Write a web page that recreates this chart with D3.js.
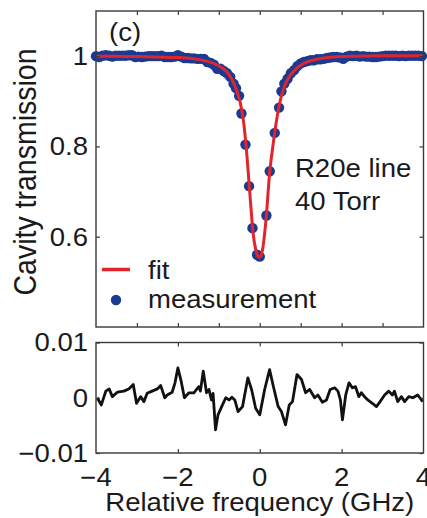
<!DOCTYPE html>
<html>
<head>
<meta charset="utf-8">
<script src="https://cdn.jsdelivr.net/npm/d3@7"></script>
<style>
  html, body { margin: 0; padding: 0; background: #fff; }
  svg { display: block; }
  text { font-family: "Liberation Sans", Arial, Helvetica, sans-serif; fill: #1a1a1a; }
</style>
</head>
<body>
<svg id="chart" width="427" height="518"></svg>
<script>
// Lineshape fit (cavity transmission vs. detuning, GHz)
const fitFreq = [-4, -3.5, -3, -2.5, -2, -1.6, -1.3, -1.1, -0.95, -0.85, -0.75, -0.65, -0.55, -0.48,
  -0.4, -0.32, -0.24, -0.16, -0.1, -0.05, -0.02, 0.02, 0.08, 0.16, 0.24, 0.32, 0.4, 0.48, 0.56,
  0.65, 0.75, 0.9, 1.1, 1.4, 1.8, 2.3, 3, 3.5, 4];
const fitValue = [1.000, 1.000, 0.999, 0.998, 0.997, 0.994, 0.989, 0.983, 0.976, 0.969, 0.959, 0.943,
  0.920, 0.898, 0.858, 0.787, 0.694, 0.606, 0.572, 0.557, 0.554, 0.556, 0.578, 0.645, 0.740, 0.800,
  0.852, 0.893, 0.922, 0.943, 0.958, 0.973, 0.985, 0.993, 0.998, 1.000, 1.001, 1.001, 1.001];

// Measured transmission
const measFreq = [-4.00, -3.92, -3.84, -3.76, -3.68, -3.60, -3.52, -3.44, -3.36, -3.28, -3.20, -3.12,
  -3.04, -2.96, -2.88, -2.80, -2.72, -2.64, -2.56, -2.48, -2.40, -2.32, -2.24, -2.16, -2.08, -2.00,
  -1.92, -1.84, -1.76, -1.68, -1.60, -1.52, -1.44, -1.36, -1.28, -1.20, -1.12, -1.04, -0.96, -0.88,
  -0.80, -0.72, -0.64, -0.58, -0.505, -0.446, -0.349, -0.261, -0.178, -0.066, 0.000, 0.163, 0.244,
  0.366, 0.471, 0.53, 0.60, 0.68, 0.76, 0.84, 0.92, 1.00, 1.08, 1.16, 1.24, 1.32, 1.40, 1.48, 1.56,
  1.64, 1.72, 1.80, 1.88, 1.96, 2.04, 2.12, 2.20, 2.28, 2.36, 2.44, 2.52, 2.60, 2.68, 2.76, 2.84,
  2.92, 3.00, 3.08, 3.16, 3.24, 3.32, 3.40, 3.48, 3.56, 3.64, 3.72, 3.80, 3.88, 3.96];
const measValue = [1.000, 0.998, 1.001, 1.002, 1.001, 0.999, 1.001, 1.001, 1.001, 1.001, 1.002, 1.002,
  0.998, 0.999, 0.998, 0.999, 1.000, 1.000, 1.000, 1.000, 1.001, 0.998, 0.998, 0.998, 0.999, 1.002,
  0.999, 0.996, 0.996, 0.995, 0.995, 0.994, 0.994, 0.994, 0.987, 0.985, 0.981, 0.972, 0.972, 0.967,
  0.962, 0.954, 0.939, 0.929, 0.912, 0.873, 0.804, 0.712, 0.619, 0.560, 0.556, 0.647, 0.745,
  0.830, 0.886, 0.922, 0.939, 0.950, 0.962, 0.969, 0.978, 0.984, 0.987, 0.989, 0.991, 0.991, 0.993,
  0.993, 0.994, 0.996, 0.997, 0.998, 0.998, 0.997, 0.994, 0.999, 1.001, 1.000, 1.001, 0.999, 1.000,
  0.999, 0.999, 0.998, 0.998, 0.999, 1.000, 1.001, 1.001, 1.001, 1.001, 1.000, 1.001, 1.000, 1.001,
  1.001, 1.001, 1.001, 1.000];

// Fit residual
const resFreq = [-3.97, -3.87, -3.76, -3.68, -3.60, -3.48, -3.32, -3.20, -3.09, -3.01, -2.91, -2.83,
  -2.75, -2.63, -2.50, -2.42, -2.32, -2.26, -2.14, -2.07, -2.00, -1.92, -1.84, -1.73, -1.61, -1.49,
  -1.45, -1.38, -1.30, -1.24, -1.18, -1.14, -1.08, -1.02, -0.93, -0.83, -0.75, -0.68, -0.61, -0.53,
  -0.42, -0.29, -0.20, -0.10, 0.00, 0.12, 0.24, 0.34, 0.45, 0.53, 0.63, 0.72, 0.80, 0.91, 1.02,
  1.12, 1.22, 1.34, 1.42, 1.53, 1.63, 1.72, 1.83, 1.91, 1.97, 2.02, 2.10, 2.18, 2.26, 2.34, 2.42,
  2.48, 2.56, 2.64, 2.75, 2.85, 2.94, 3.05, 3.15, 3.24, 3.29, 3.37, 3.46, 3.54, 3.64, 3.74, 3.86, 3.98];
const resValue = [0.0000, -0.0013, 0.0012, 0.0016, 0.0002, 0.0010, 0.0012, 0.0016, 0.0024, -0.0010,
  0.0002, -0.0007, 0.0008, 0.0012, 0.0016, 0.0022, 0.0000, 0.0005, 0.0010, 0.0027, 0.0054, 0.0030,
  0.0000, 0.0009, 0.0009, 0.0020, 0.0012, 0.0048, 0.0009, 0.0015, -0.0004, 0.0008, -0.0058, -0.0031,
  -0.0016, 0.0000, -0.0004, 0.0001, -0.0004, -0.0025, -0.0016, 0.0036, 0.0015, -0.0019, -0.0031,
  0.0015, 0.0051, 0.0018, -0.0016, -0.0025, -0.0049, -0.0013, -0.0007, 0.0042, 0.0033, 0.0009,
  0.0015, 0.0000, 0.0005, -0.0008, -0.0004, 0.0015, 0.0018, 0.0012, -0.0004, -0.0040, 0.0005,
  0.0027, 0.0018, 0.0020, 0.0002, 0.0009, 0.0002, -0.0004, -0.0010, -0.0016, -0.0007, 0.0005,
  0.0012, 0.0005, 0.0012, -0.0007, 0.0002, -0.0007, 0.0002, 0.0000, 0.0005, -0.0007];

// Ticks and labels
const xTickLabels = [-4, -2, 0, 2, 4];
const xMinorTicks = [-3, -2, -1, 0, 1, 2, 3];
const topYTicks = [0.6, 0.8, 1];
const botYTicks = [-0.01, 0, 0.01];
const legendLabels = ["fit", "measurement"];
const noteLines = ["R20e line", "40 Torr"];
const panelTag = "(c)";
const xTitle = "Relative frequency (GHz)";
const yTitle = "Cavity transmission";

const RED = "#e0262c";
const BLUE = "#1b3a92";
const FRAME = "#3a3a3a";
const FONT = 25.5;
const STRETCH = 1.08;

const svg = d3.select("#chart");
const L = 96, R = 423.5;
const topPanel = { y0: 11, y1: 327 };
const botPanel = { y0: 342.5, y1: 453 };

const x = d3.scaleLinear().domain([-4, 4]).range([L, R]);
const yTop = d3.scaleLinear().domain([0.4, 1.1]).range([topPanel.y1, topPanel.y0]);
const yBot = d3.scaleLinear().domain([-0.01, 0.01]).range([botPanel.y1, botPanel.y0]);

const fmt = v => String(+v.toFixed(3)).replace("-", "\u2212");

// horizontally widened text, as in the original figure
function label(g, str, px, py, anchor, size, dy) {
  return g.append("text")
    .attr("transform", `translate(${px},${py}) scale(${STRETCH},1)`)
    .attr("text-anchor", anchor)
    .attr("font-size", size)
    .attr("dy", dy || 0)
    .text(str);
}

function inwardAxes(yScale, xTicks, yTicks, panel) {
  const g = svg.append("g");
  const tickStyle = sel => {
    sel.select(".domain").remove();
    sel.selectAll(".tick line").attr("stroke", FRAME).attr("stroke-width", 1.2);
    sel.selectAll(".tick text").remove();
  };
  g.append("g").attr("transform", `translate(0,${panel.y1})`)
    .call(d3.axisBottom(x).tickValues(xTicks).tickSize(-4)).call(tickStyle);
  g.append("g").attr("transform", `translate(0,${panel.y0})`)
    .call(d3.axisTop(x).tickValues(xTicks).tickSize(-4)).call(tickStyle);
  g.append("g").attr("transform", `translate(${L},0)`)
    .call(d3.axisLeft(yScale).tickValues(yTicks).tickSize(-4)).call(tickStyle);
  g.append("g").attr("transform", `translate(${R},0)`)
    .call(d3.axisRight(yScale).tickValues(yTicks).tickSize(-4)).call(tickStyle);
  g.append("rect")
    .attr("x", L).attr("y", panel.y0)
    .attr("width", R - L).attr("height", panel.y1 - panel.y0)
    .attr("fill", "none").attr("stroke", FRAME).attr("stroke-width", 1.4);
  return g;
}

// ---- transmission panel ----
const meas = measFreq.map((f, i) => ({ f, v: measValue[i] }));
const fit = fitFreq.map((f, i) => ({ f, v: fitValue[i] }));

svg.append("g").selectAll("circle").data(meas).join("circle")
  .attr("cx", d => x(d.f)).attr("cy", d => yTop(d.v)).attr("r", 5.2)
  .attr("fill", BLUE);

svg.append("path").datum(fit)
  .attr("fill", "none").attr("stroke", RED).attr("stroke-width", 3)
  .attr("stroke-linejoin", "round")
  .attr("d", d3.line().x(d => x(d.f)).y(d => yTop(d.v)).curve(d3.curveMonotoneX));

inwardAxes(yTop, xMinorTicks, topYTicks, topPanel);

const labels = svg.append("g");
topYTicks.forEach(v => label(labels, fmt(v), 88, yTop(v), "end", FONT, "0.35em"));

label(labels, panelTag, 109, 41, "start", FONT);
label(labels, noteLines[0], 295, 177, "start", FONT);
label(labels, noteLines[1], 295, 210, "start", FONT);

// legend
svg.append("line").attr("x1", 102).attr("x2", 130).attr("y1", 269.5).attr("y2", 269.5)
  .attr("stroke", RED).attr("stroke-width", 3.5);
label(labels, legendLabels[0], 148, 279, "start", FONT);
svg.append("circle").attr("cx", 116).attr("cy", 300).attr("r", 5.2).attr("fill", BLUE);
label(labels, legendLabels[1], 148, 308, "start", FONT);

// ---- residual panel ----
const res = resFreq.map((f, i) => ({ f, v: resValue[i] }));
svg.append("path").datum(res)
  .attr("fill", "none").attr("stroke", "#111").attr("stroke-width", 2.8)
  .attr("stroke-linejoin", "round")
  .attr("d", d3.line().x(d => x(d.f)).y(d => yBot(d.v)));

inwardAxes(yBot, [-2, 0, 2], botYTicks, botPanel);
botYTicks.forEach(v => label(labels, fmt(v), 88, yBot(v), "end", FONT, "0.35em"));
xTickLabels.forEach(v => label(labels, fmt(v), x(v), 486, "middle", FONT));

label(labels, xTitle, (L + R) / 2, 511, "middle", FONT);

// rotated y title
svg.append("text")
  .attr("transform", `translate(36,172) scale(${STRETCH},1) rotate(-90)`)
  .attr("text-anchor", "middle")
  .attr("font-size", 28.5)
  .text(yTitle);
</script>
</body>
</html>
